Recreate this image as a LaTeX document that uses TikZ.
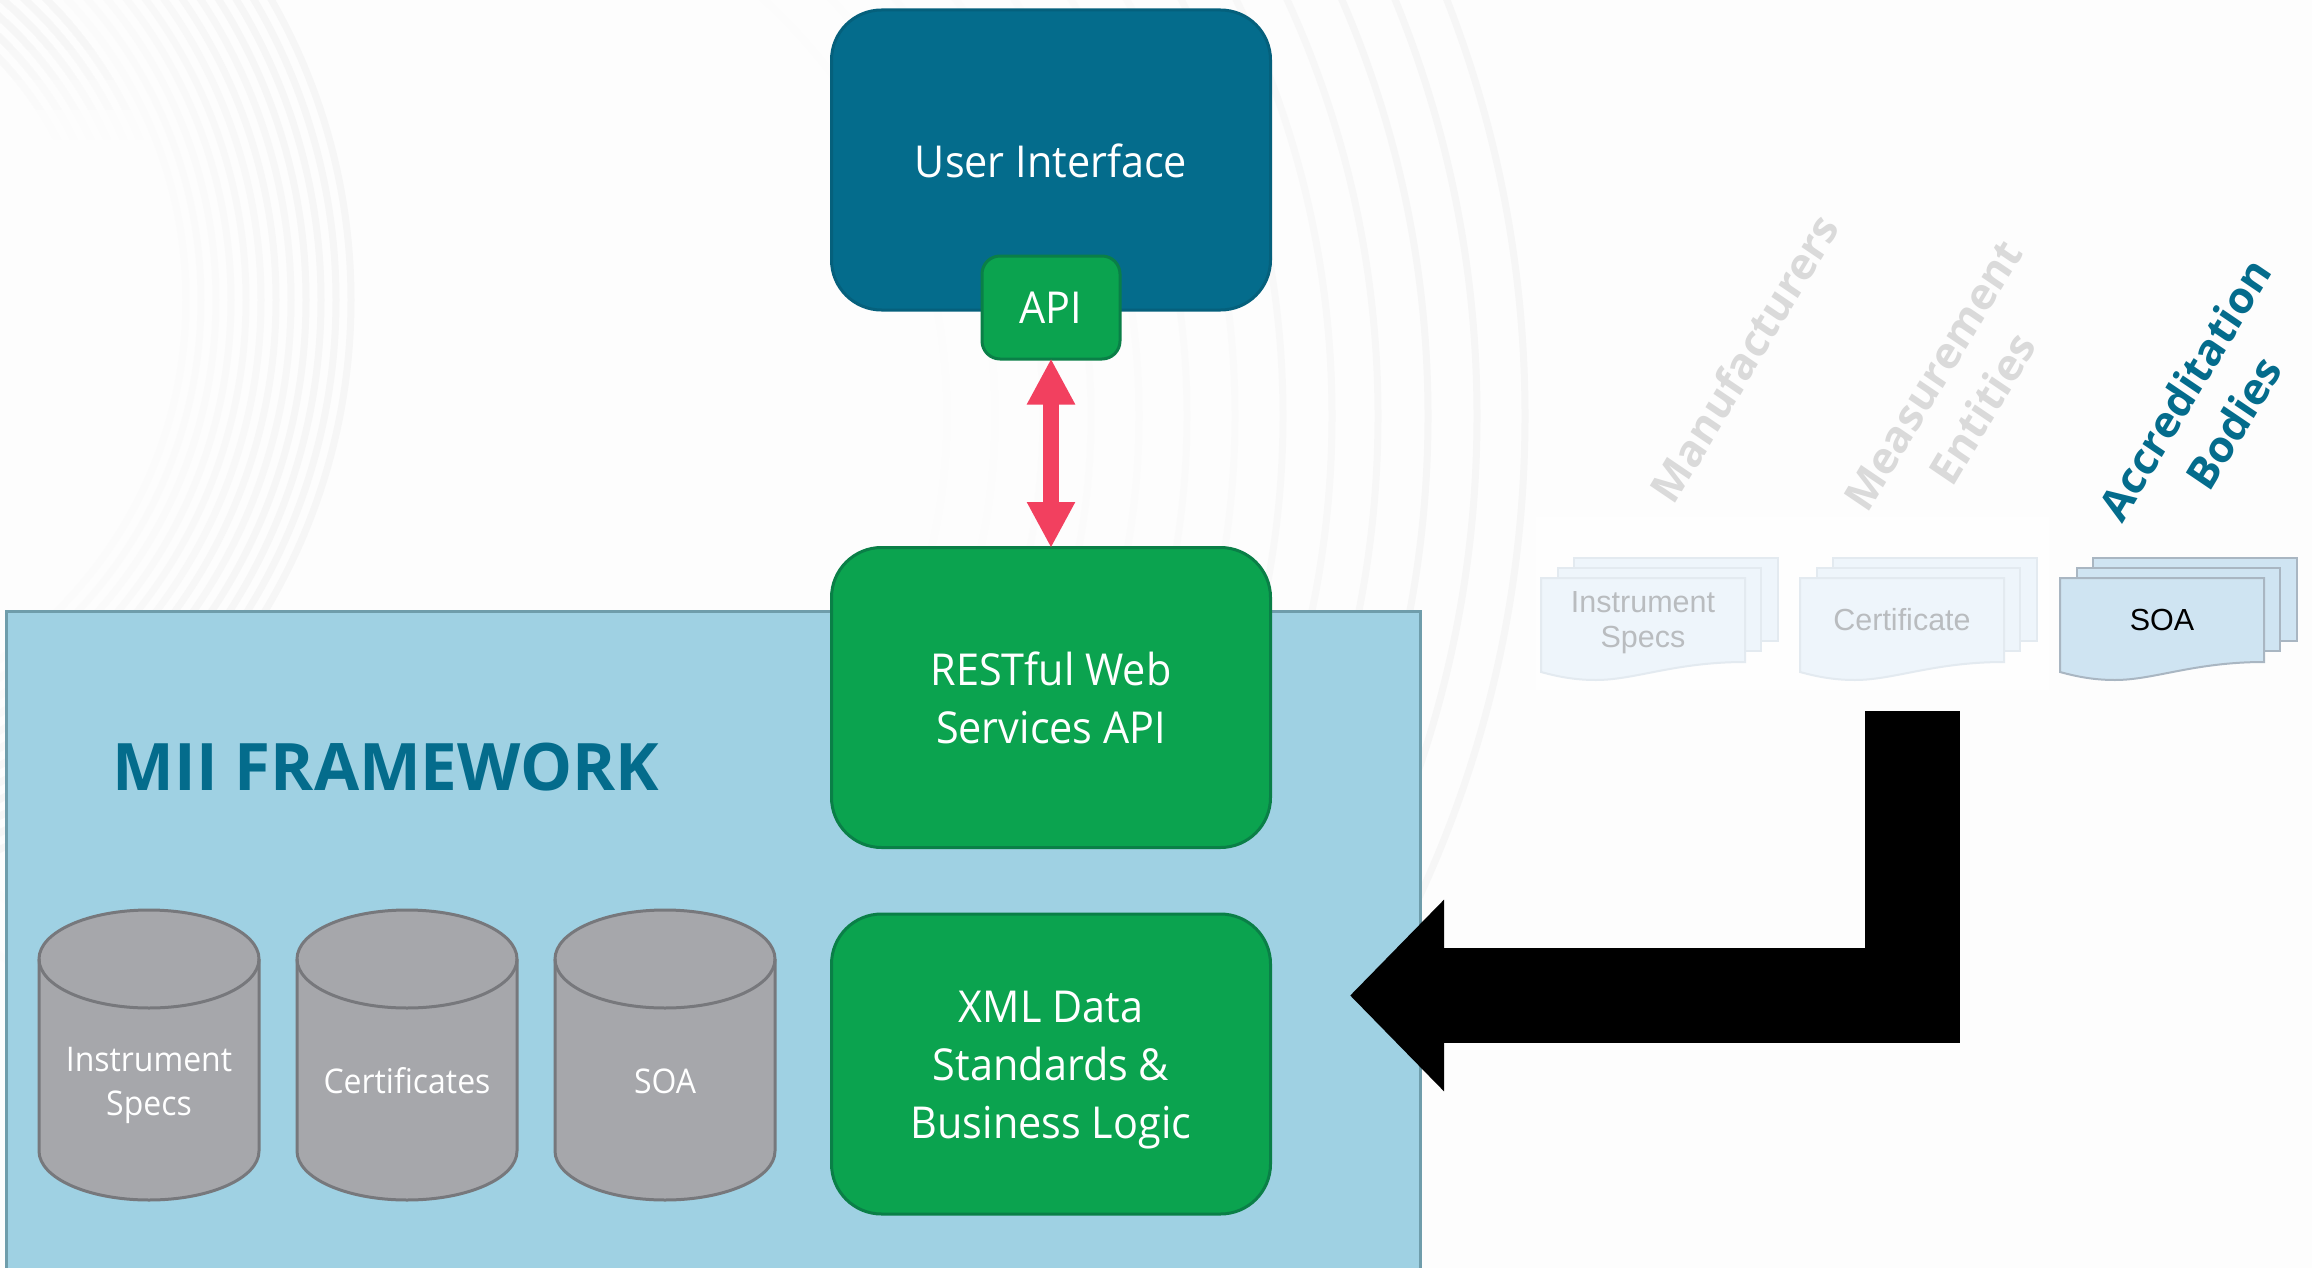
\documentclass[tikz,border=0pt]{standalone}
\usepackage{fontspec}
\setmainfont{Open Sans}[FakeStretch=0.94]
\newfontfamily\plainfont{Open Sans}
\newfontfamily\docfont{Liberation Sans}
\usetikzlibrary{arrows.meta}
\definecolor{teal1}{HTML}{046C8C}
\definecolor{teal2}{HTML}{05607C}
\definecolor{grn}{HTML}{0BA34F}
\definecolor{grnb}{HTML}{0A7F47}
\definecolor{frame}{HTML}{9FD1E3}
\definecolor{frameb}{HTML}{6F9DAB}
\definecolor{cyl}{HTML}{A6A7AB}
\definecolor{cylb}{HTML}{77787C}
\definecolor{red1}{HTML}{F2405F}
\definecolor{docf}{HTML}{EEF5FB}
\definecolor{docb}{HTML}{E3EAF0}
\definecolor{soaf}{HTML}{CFE4F2}
\definecolor{soab}{HTML}{A9B6C2}
\definecolor{fadet}{HTML}{B9BCBF}
\definecolor{fadeh}{HTML}{DADADA}
\definecolor{bgc}{HTML}{FDFDFD}
\definecolor{arcc}{HTML}{F6F6F6}
\tikzset{
  x=1pt,y=-1pt,
  bigbox/.style={draw=grnb,fill=grn,line width=3pt,rounded corners=50pt,minimum width=439pt,minimum height=300pt,text=white,align=center,font=\fontsize{44}{58}\selectfont,inner sep=0pt},
  apibox/.style={draw=grnb,fill=grn,line width=3pt,rounded corners=18pt,minimum width=138pt,minimum height=103pt,text=white,font=\fontsize{44}{58}\selectfont,inner sep=0pt},
  boxtext/.style={text=white,align=center,font=\fontsize{44}{58}\selectfont,inner sep=0pt},
  cyltext/.style={text=white,align=center,font=\fontsize{34}{44}\selectfont,inner sep=0pt},
  doctext/.style={align=center,font=\docfont\fontsize{30.5}{35}\selectfont,inner sep=0pt},
  headtext/.style={xscale=.94,rotate=57.5,align=center,font=\plainfont\bfseries\fontsize{44.5}{62}\selectfont,inner sep=0pt},
  arcr/.style={line width=7pt,color=arcc},
  fat/.style={line width=16pt,color=red1,shorten <=-2pt,shorten >=-2pt,{Triangle[length=46pt,width=45pt]}-{Triangle[length=46pt,width=45pt]}},
  blk/.style={line width=95pt,color=black,-{Triangle[length=94pt,width=186pt]}},
}
\newcommand{\mydocpage}[6]{% x0 x1 y0 yr fill draw
  \path[fill=#5,draw=#6,line width=2pt] (#1,#3) -- (#2,#3) -- (#2,#4)
    .. controls ({#2-70},#4) and ({#2-110},{#4+18}) .. ({#1+55},{#4+18})
    .. controls ({#1+35},{#4+18}) and ({#1+18},{#4+15}) .. (#1,{#4+10}) -- cycle;
}
\newcommand{\mydocs}[3]{% x0 fill draw
  \path[fill=#2,draw=#3,line width=2pt] ({#1+33},558) rectangle ({#1+237},641);
  \path[fill=#2,draw=#3,line width=2pt] ({#1+17},568) rectangle ({#1+220},651);
  \mydocpage{#1}{#1+204}{578}{662}{#2}{#3}
}
\newcommand{\mycyl}[1]{%
  \path[fill=cyl,draw=cylb,line width=3pt] (#1,959) arc[start angle=180,end angle=0,x radius=110,y radius=-49]
     -- ({#1+220},1151) arc[start angle=360,end angle=180,x radius=110,y radius=-49] -- cycle;
  \path[draw=cylb,line width=3pt] (#1,959) arc[start angle=180,end angle=360,x radius=110,y radius=-49];
}
\begin{document}
\begin{tikzpicture}
\useasboundingbox (0,0) rectangle (2312,1268);
\fill[bgc] (0,0) rectangle (2312,1268);
% faint background arcs
\begin{scope}
\clip (0,0) rectangle (2312,1268);
\foreach \r/\o in {605/100,590/100,575/95,560/90,545/85,530/80,515/70,500/60,485/50,470/40,455/30,440/25}{
  \draw[arcr,opacity=\o/100] (-254,300) circle[radius=\r];
}
\foreach \h/\p in {50/45,80/30,110/20,140/10}{
\begin{scope}
\clip (0,0) rectangle (260,\h);
\foreach \r in {425,410,395,380,365,350}{
  \draw[arcr,opacity=\p/100] (-254,300) circle[radius=\r];
}
\end{scope}
}
\clip (0,0) rectangle (1600,1000);
\foreach \r/\o in {1143/100,1095/100,1046/90,996/80,950/70,901/60,853/40,805/30,757/25,709/20,661/15,613/12,565/10}{
  \draw[arcr,opacity=\o/100] (382,416) circle[radius=\r];
}
\end{scope}
\fill[white,opacity=.5] (1536,517) rectangle (2049,690);
% framework
\path[fill=frame,draw=frameb,line width=3pt] (6,611) rectangle (1420,1270);
\node[font=\plainfont\bfseries\fontsize{65.5}{70}\selectfont,text=teal1,inner sep=0pt] (title) at (386,767) {MII FRAMEWORK};
% cylinders
\mycyl{39} \mycyl{297} \mycyl{555}
\node[cyltext] (c1) at (149,1085) {Instrument\\Specs};
\node[cyltext] (c2) at (407,1081) {Certificates};
\node[cyltext] (c3) at (665,1081) {SOA};
% boxes
\node[bigbox,draw=teal2,fill=teal1] (ui) at (1051,160) {};
\node[boxtext] (uit) at (1051,161) {User Interface};
\node[apibox] (api) at (1051,307.5) {API};
\node[bigbox] (rest) at (1051,697.5) {RESTful Web\\Services API};
\node[bigbox] (xml) at (1051,1064) {};
\node[boxtext] (xmlt) at (1051,1070) {XML Data\\Standards \&\\Business Logic};
\draw[fat] (api.south) -- (rest.north);
% documents
\mydocs{1541}{docf}{docb}
\mydocs{1800}{docf}{docb}
\mydocs{2060}{soaf}{soab}
\node[doctext,text=fadet] (d1) at (1643,623) {Instrument\\Specs};
\node[doctext,text=fadet] (d2) at (1902,620) {Certificate};
\node[doctext,text=black] (d3) at (2162,620) {SOA};
% rotated headings
\node[headtext,text=fadeh] (h1) at (1744,358) {Manufacturers};
\node[headtext,text=fadeh] (h2) at (1958,392) {Measurement\\Entities};
\node[headtext,text=teal1] (h3) at (2209,406) {Accreditation\\Bodies};
% big black arrow
\coordinate (blkstart) at (1912.5,711);
\coordinate (blkend) at (1350,995.5);
\draw[blk] (blkstart) |- (blkend);
\end{tikzpicture}
\end{document}
